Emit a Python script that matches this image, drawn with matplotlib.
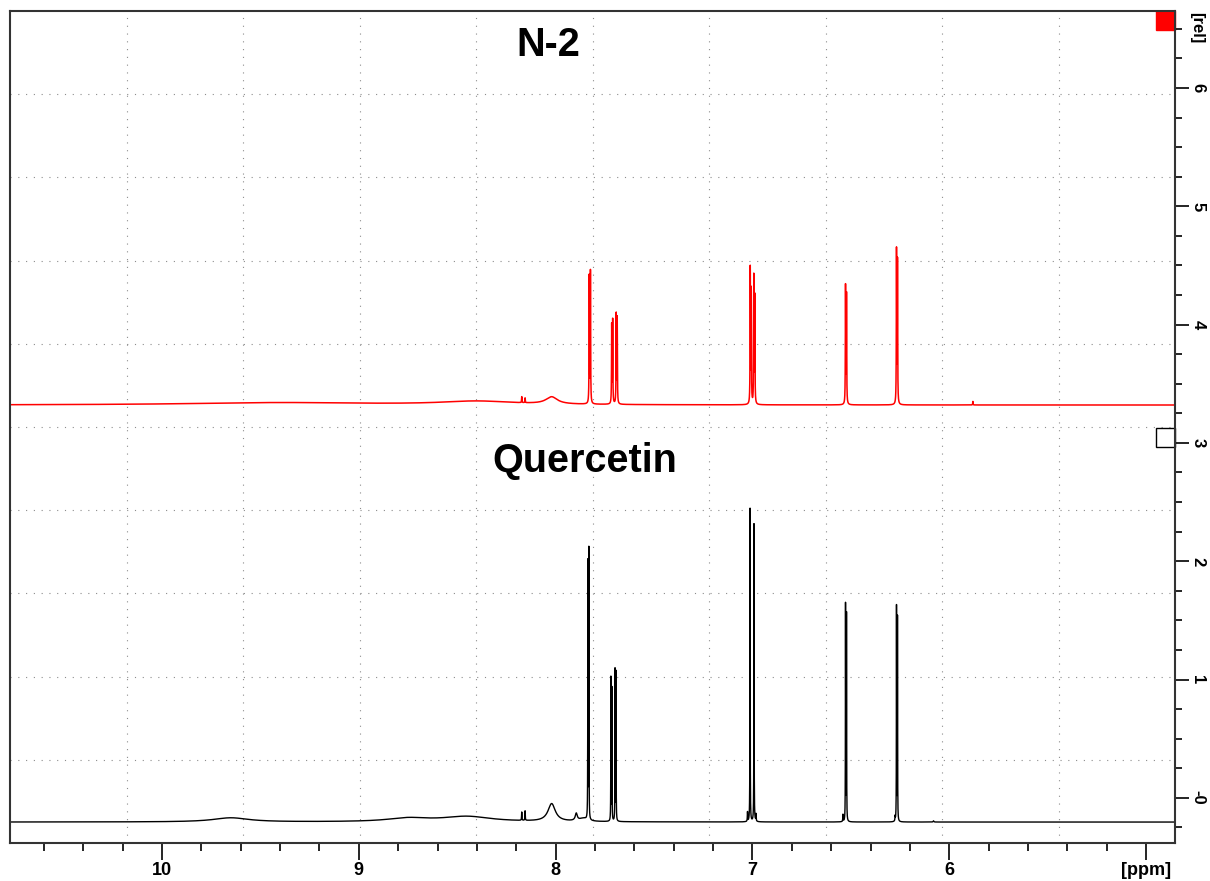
import numpy as np
import matplotlib.pyplot as plt
from matplotlib.patches import Rectangle

# visible window (ppm runs right to left) and the relative intensity window
ppm_left, ppm_right = 10.772, 4.853
rel_bottom, rel_top = -0.382, 6.651

# Quercetin (black trace): shift [ppm], height [rel], line width [ppm]
quer_shift = [7.836, 7.831, 7.719, 7.714, 7.698, 7.693, 7.012, 6.992,
              6.527, 6.522, 6.268, 6.263,
              8.02, 8.45, 8.75, 9.65, 8.155, 8.172, 7.895, 7.86,
              7.025, 6.982, 6.540, 6.275, 6.08]
quer_height = [2.17, 2.28, 1.21, 1.12, 1.28, 1.26, 2.65, 2.52,
               1.83, 1.75, 1.81, 1.72,
               0.15, 0.045, 0.03, 0.035, 0.08, 0.07, 0.06, 0.025,
               0.08, 0.06, 0.06, 0.04, 0.01]
quer_width = [0.0013, 0.0013, 0.0013, 0.0013, 0.0013, 0.0013, 0.0014, 0.0014,
              0.0013, 0.0013, 0.0013, 0.0013,
              0.045, 0.30, 0.25, 0.22, 0.002, 0.002, 0.012, 0.05,
              0.002, 0.002, 0.002, 0.002, 0.004]
quer_base = -0.205

# N-2 (red trace)
n2_shift = [7.829, 7.823, 7.715, 7.710, 7.692, 7.687, 7.011, 7.006, 6.993, 6.988,
            6.527, 6.522, 6.268, 6.263,
            8.02, 8.40, 9.40, 8.155, 8.172, 5.88]
n2_height = [1.07, 1.11, 0.66, 0.70, 0.75, 0.72, 1.14, 0.95, 1.07, 0.90,
             0.99, 0.92, 1.29, 1.20,
             0.06, 0.03, 0.02, 0.04, 0.05, 0.03]
n2_width = [0.002, 0.002, 0.002, 0.002, 0.002, 0.002, 0.002, 0.002, 0.002, 0.002,
            0.002, 0.002, 0.002, 0.002,
            0.07, 0.45, 1.1, 0.002, 0.002, 0.002]
n2_base = 3.32

x_ticks = [10, 9, 8, 7, 6, 5]
x_labels = ['10', '9', '8', '7', '6', '[ppm]']
y_ticks = [0, 1, 2, 3, 4, 5, 6]
y_labels = ['-0', '1', '2', '3', '4', '5', '6']


def trace(shifts, heights, widths, x):
    y = np.zeros_like(x)
    for s, h, w in zip(shifts, heights, widths):
        y += h / (1 + ((x - s) / (w / 2)) ** 2)
    return y


ppm = np.linspace(ppm_left, ppm_right, 90000)
black = quer_base + trace(quer_shift, quer_height, quer_width, ppm)
red = n2_base + trace(n2_shift, n2_height, n2_width, ppm)

plt.rcParams['font.family'] = ['Liberation Sans', 'DejaVu Sans']

W, H = 1210, 881
fig = plt.figure(figsize=(W / 100, H / 100), dpi=100)
ax = fig.add_axes([10 / W, (H - 843) / H, 1165 / W, 832 / H])

# dotted grid: ten equal divisions of the frame
for k in range(1, 10):
    ax.plot([k / 10, k / 10], [0, 1], transform=ax.transAxes, color='#8c8c8c',
            lw=0.8, ls=(0, (1, 6)), zorder=0)
    ax.plot([0, 1], [k / 10, k / 10], transform=ax.transAxes, color='#8c8c8c',
            lw=0.8, ls=(0, (1, 6)), zorder=0)

ax.plot(ppm, red, color='#ff0000', lw=1.1)
ax.plot(ppm, black, color='black', lw=1.0)

ax.set_xlim(ppm_left, ppm_right)
ax.set_ylim(rel_bottom, rel_top)

ax.set_xticks(x_ticks)
ax.set_xticklabels(x_labels)
ax.set_xticks(np.arange(10.6, 4.85, -0.2), minor=True)
ax.set_yticks(y_ticks)
ax.set_yticklabels(y_labels)
ax.set_yticks(np.arange(-0.25, 6.6, 0.25), minor=True)

ax.yaxis.tick_right()
ax.tick_params(axis='both', which='both', direction='out', color='black', width=1.2)
ax.tick_params(axis='x', which='major', length=12)
ax.tick_params(axis='x', which='minor', length=6)
ax.tick_params(axis='y', which='major', length=10)
ax.tick_params(axis='y', which='minor', length=5)
ax.tick_params(axis='x', labelsize=13, pad=2)
ax.tick_params(axis='y', labelsize=12, pad=1, labelrotation=-90)
for lab in ax.get_xticklabels() + ax.get_yticklabels():
    lab.set_fontweight('bold')
for lab in ax.get_yticklabels():
    lab.set_va('center')

for sp in ax.spines.values():
    sp.set_linewidth(1.5)
    sp.set_color('#333333')

# spectrum markers at the right edge
ax.add_patch(Rectangle((1 - 19 / 1165, 1 - 19 / 832), 19 / 1165, 19 / 832,
                       transform=ax.transAxes, facecolor='#ff0000',
                       edgecolor='#ff0000', clip_on=False))
ax.add_patch(Rectangle((1 - 19 / 1165, (843 - 447) / 832), 19 / 1165, 19 / 832,
                       transform=ax.transAxes, facecolor='white',
                       edgecolor='black', lw=1.0, clip_on=False))

fig.text(1189 / W, (H - 12) / H, '[rel]', rotation=-90, fontsize=12,
         fontweight='bold', ha='left', va='top')

fig.text(548 / W, (H - 56) / H, 'N-2', fontsize=28.5, fontweight='bold',
         ha='center', va='baseline')
fig.text(584.5 / W, (H - 472) / H, 'Quercetin', fontsize=28.5, fontweight='bold',
         ha='center', va='baseline')

fig.savefig('out.png', dpi=100)
